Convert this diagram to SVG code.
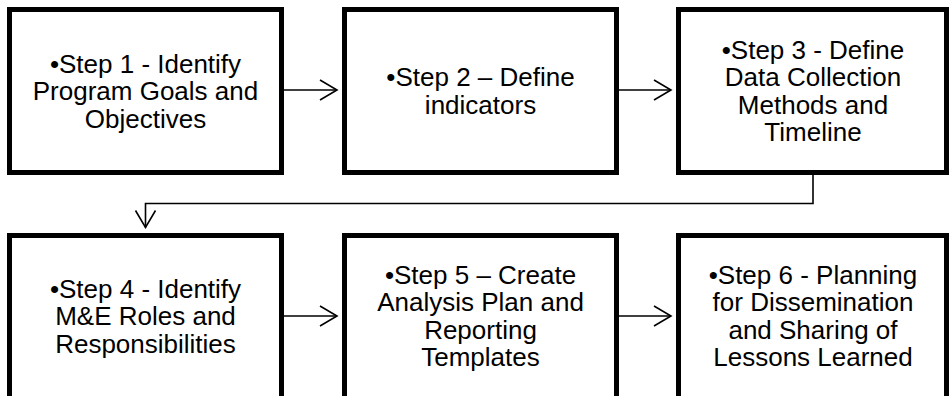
<svg xmlns="http://www.w3.org/2000/svg" width="950" height="396" viewBox="0 0 950 396">
<style>
.box{fill:#fff;stroke:#000;stroke-width:5;stroke-linejoin:miter}
.lbl{font-family:"Liberation Sans",Arial,sans-serif;font-size:26px;fill:#000;text-anchor:middle}
.conn{fill:none;stroke:#000;stroke-width:1.6}
</style>
<defs>
<marker id="arr" markerUnits="userSpaceOnUse" viewBox="-2 -2 22 24" markerWidth="22" markerHeight="24" refX="17" refY="10" orient="auto" overflow="visible">
<path d="M0,0 L17,10 L0,20" fill="none" stroke="#000" stroke-width="1.6"/>
</marker>
</defs>
<rect width="950" height="396" fill="#fff"/>
<g id="connectors">
<path class="conn" d="M284,90 L337,90" marker-end="url(#arr)"/>
<path class="conn" d="M619,90 L671,90" marker-end="url(#arr)"/>
<path class="conn" d="M813,175 L813,203.5 L145.5,203.5 L145.5,227.5" marker-end="url(#arr)"/>
<path class="conn" d="M284,316 L337,316" marker-end="url(#arr)"/>
<path class="conn" d="M619,316 L671,316" marker-end="url(#arr)"/>
</g>
<g id="step1">
<rect class="box" x="9.5" y="9.5" width="272" height="163"/>
<text class="lbl"><tspan x="145.5" y="72.8">•Step 1 - Identify</tspan><tspan x="145.5" y="100.3">Program Goals and</tspan><tspan x="145.5" y="127.8">Objectives</tspan></text>
</g>
<g id="step2">
<rect class="box" x="344.5" y="9.5" width="272" height="163"/>
<text class="lbl"><tspan x="480.5" y="86">•Step 2 – Define</tspan><tspan x="480.5" y="113.5">indicators</tspan></text>
</g>
<g id="step3">
<rect class="box" x="678.5" y="9.5" width="268" height="163"/>
<text class="lbl"><tspan x="813" y="58.5">•Step 3 - Define</tspan><tspan x="813" y="86">Data Collection</tspan><tspan x="813" y="113.5">Methods and</tspan><tspan x="813" y="141">Timeline</tspan></text>
</g>
<g id="step4">
<rect class="box" x="9.5" y="235.5" width="272" height="163"/>
<text class="lbl"><tspan x="145.5" y="297.5">•Step 4 - Identify</tspan><tspan x="145.5" y="325">M&amp;E Roles and</tspan><tspan x="145.5" y="352.5">Responsibilities</tspan></text>
</g>
<g id="step5">
<rect class="box" x="344.5" y="235.5" width="272" height="163"/>
<text class="lbl"><tspan x="480.5" y="283.5">•Step 5 – Create</tspan><tspan x="480.5" y="311">Analysis Plan and</tspan><tspan x="480.5" y="338.5">Reporting</tspan><tspan x="480.5" y="366">Templates</tspan></text>
</g>
<g id="step6">
<rect class="box" x="678.5" y="235.5" width="268" height="163"/>
<text class="lbl"><tspan x="813" y="283.5">•Step 6 - Planning</tspan><tspan x="813" y="311">for Dissemination</tspan><tspan x="813" y="338.5">and Sharing of</tspan><tspan x="813" y="366">Lessons Learned</tspan></text>
</g>
</svg>
